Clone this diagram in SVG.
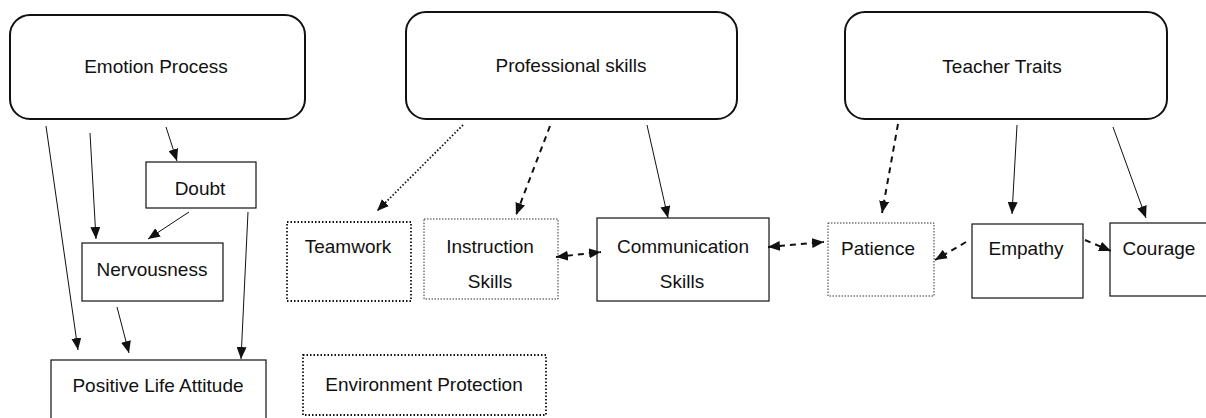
<svg xmlns="http://www.w3.org/2000/svg" width="1206" height="418" viewBox="0 0 1206 418">
<style>
text{font-family:"Liberation Sans",Arial,sans-serif;font-size:19px;fill:#111;text-anchor:middle}
.head{fill:none;stroke:#111;stroke-width:2}
.box{fill:#fff;stroke:#111;stroke-width:1.2}
.dot{fill:#fff;stroke:#111;stroke-width:1.8;stroke-dasharray:1.5 2}
.fine{fill:#fff;stroke:#333;stroke-width:1;stroke-dasharray:1.5 1.5}
.s{stroke:#111;stroke-width:1;fill:none}
.d{stroke:#111;stroke-width:2;fill:none;stroke-dasharray:6 5}
.o{stroke:#111;stroke-width:1.8;fill:none;stroke-dasharray:1.5 2}
</style>
<defs>
<marker id="a" markerUnits="userSpaceOnUse" markerWidth="12" markerHeight="10" refX="12" refY="5" orient="auto-start-reverse" viewBox="0 0 12 10"><path d="M0,0 L12,5 L0,10 z" fill="#111"/></marker>
</defs>
<rect width="1206" height="418" fill="#fff"/>
<g id="emotion-process"><rect class="head" x="10" y="15" width="295" height="104" rx="20"/><text x="156" y="73">Emotion Process</text></g>
<g id="professional-skills"><rect class="head" x="406" y="12" width="331" height="107" rx="20"/><text x="571" y="72">Professional skills</text></g>
<g id="teacher-traits"><rect class="head" x="845" y="12" width="322" height="107" rx="20"/><text x="1002" y="73">Teacher Traits</text></g>
<g id="doubt"><rect class="box" x="146" y="162" width="110" height="46"/><text x="200" y="195">Doubt</text></g>
<g id="nervousness"><rect class="box" x="82" y="243" width="141" height="58"/><text x="152" y="276">Nervousness</text></g>
<g id="positive-life-attitude"><rect class="box" x="51" y="360" width="215" height="70"/><text x="158" y="392">Positive Life Attitude</text></g>
<g id="teamwork"><rect class="dot" x="287" y="222" width="124" height="79"/><text x="348" y="253">Teamwork</text></g>
<g id="instruction-skills"><rect class="fine" x="424" y="219" width="134" height="80"/><text x="490" y="253">Instruction</text><text x="490" y="288">Skills</text></g>
<g id="communication-skills"><rect class="box" x="597" y="218" width="172" height="83"/><text x="683" y="253">Communication</text><text x="682" y="288">Skills</text></g>
<g id="patience"><rect class="fine" x="828" y="223" width="106" height="73"/><text x="878" y="255">Patience</text></g>
<g id="empathy"><rect class="box" x="972" y="224" width="111" height="74"/><text x="1026" y="255">Empathy</text></g>
<g id="courage"><rect class="box" x="1110" y="223" width="110" height="73"/><text x="1159" y="255">Courage</text></g>
<g id="environment-protection"><rect class="dot" x="303" y="355" width="243" height="60"/><text x="424" y="391">Environment Protection</text></g>
<g id="connectors">
<line class="s" x1="46" y1="126" x2="78" y2="350" marker-end="url(#a)"/>
<line class="s" x1="90" y1="133" x2="96" y2="239" marker-end="url(#a)"/>
<line class="s" x1="166" y1="127" x2="177" y2="161" marker-end="url(#a)"/>
<line class="s" x1="189" y1="212" x2="148" y2="239" marker-end="url(#a)"/>
<line class="s" x1="117" y1="307" x2="129" y2="353" marker-end="url(#a)"/>
<line class="s" x1="248" y1="212" x2="241" y2="359" marker-end="url(#a)"/>
<line class="o" x1="463" y1="125" x2="377" y2="211" marker-end="url(#a)"/>
<line class="d" x1="550" y1="126" x2="516" y2="215" marker-end="url(#a)"/>
<line class="s" x1="647" y1="125" x2="668" y2="218" marker-end="url(#a)"/>
<line class="d" x1="556" y1="257" x2="601" y2="252" marker-start="url(#a)" marker-end="url(#a)"/>
<line class="d" x1="768" y1="247" x2="824" y2="242" marker-start="url(#a)" marker-end="url(#a)"/>
<line class="d" x1="898" y1="124" x2="882" y2="213" marker-end="url(#a)"/>
<line class="s" x1="1017" y1="125" x2="1012" y2="214" marker-end="url(#a)"/>
<line class="s" x1="1113" y1="127" x2="1146" y2="218" marker-end="url(#a)"/>
<line class="d" x1="966" y1="242" x2="935" y2="260" marker-end="url(#a)"/>
<line class="d" x1="1085" y1="240" x2="1111" y2="251" marker-end="url(#a)"/>
</g>
</svg>
